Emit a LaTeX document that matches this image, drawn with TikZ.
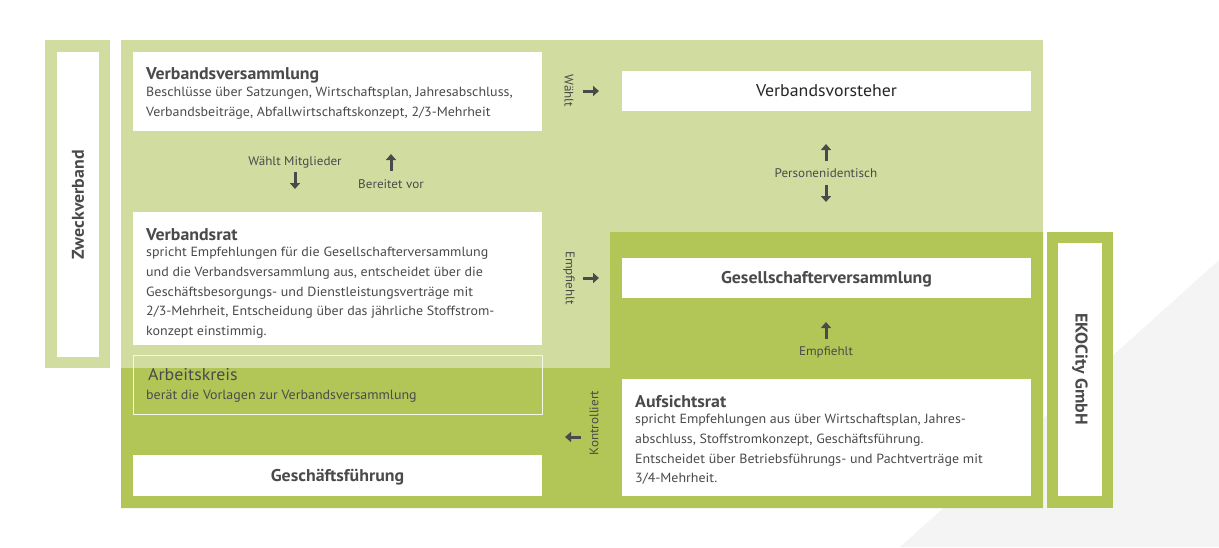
\documentclass[tikz,border=0pt]{standalone}
\usepackage{fontspec}
\setmainfont[FakeStretch=1.05]{PT Sans}
\usetikzlibrary{arrows.meta}
\definecolor{lg}{HTML}{D1DDA0}
\definecolor{dg}{HTML}{B2C658}
\definecolor{tx}{HTML}{4A4A4A}
\definecolor{bgg}{HTML}{F4F4F4}
\begin{document}
\begin{tikzpicture}[x=1pt,y=-1pt,
  wbox/.style={fill=white,draw=none},
  big/.style={font=\bfseries\fontsize{17}{20}\selectfont,text=tx},
  ttl/.style={big,anchor=west,inner sep=0},
  body/.style={font=\fontsize{13.3}{19.7}\selectfont,text=tx,anchor=north west,inner sep=0,align=left},
  lbl/.style={font=\fontsize{12.5}{14}\selectfont,text=tx,inner sep=0},
  arr/.style={-{Triangle[length=6pt,width=10pt]},line width=3pt,draw=tx}]
\useasboundingbox (0,0) rectangle (1219,547);
\fill[bgg] (900,547) -- (1219,260) -- (1219,547) -- cycle;
% Zweckverband
\fill[lg] (45,40) rectangle (110,368);
\fill[white] (57,52) rectangle (99,357);
\node[big,rotate=90] (zv) at (78,205) {Zweckverband};
% main regions
\fill[lg] (121,40) rectangle (1043,368);
\fill[dg] (121,368) -- (610,368) -- (610,232) -- (1043,232) -- (1043,508) -- (121,508) -- cycle;
% EKOCity
\fill[dg] (1047,232) rectangle (1113,508);
\fill[white] (1058,243) rectangle (1102,496);
\node[big,rotate=-90] (eko) at (1080,369) {EKOCity GmbH};
% left boxes
\fill[wbox] (133,52) rectangle (542,131);
\node[ttl] (vv) at (146,75) {Verbandsversammlung};
\node[body] at (146,87) {Beschlüsse über Satzungen, Wirtschaftsplan, Jahresabschluss,\\Verbandsbeiträge, Abfallwirtschaftskonzept, 2/3-Mehrheit};
\fill[wbox] (133,212) rectangle (542,345);
\node[ttl] (vr) at (146,235) {Verbandsrat};
\node[body] at (146,247) {spricht Empfehlungen für die Gesellschafterversammlung\\und die Verbandsversammlung aus, entscheidet über die\\Geschäftsbesorgungs- und Dienstleistungsverträge mit\\2/3-Mehrheit, Entscheidung über das jährliche Stoffstrom-\\konzept einstimmig.};
\draw[white!85!dg,line width=0.8pt] (133,355) rectangle (542,414);
\node[font=\fontsize{17}{20}\selectfont,text=tx,anchor=west,inner sep=0] (ak) at (148,375) {Arbeitskreis};
\node[body] at (146,390) {berät die Vorlagen zur Verbandsversammlung};
\fill[wbox] (133,455) rectangle (542,496);
\node[big] (gf) at (337.5,477) {Geschäftsführung};
% right boxes
\fill[wbox] (622,71) rectangle (1031,111);
\node[font=\fontsize{17}{20}\selectfont,text=black!85] (vvs) at (826.5,91) {Verbandsvorsteher};
\fill[wbox] (622,258) rectangle (1031,298);
\node[big] (gv) at (826.5,279) {Gesellschafterversammlung};
\fill[wbox] (622,379) rectangle (1031,496);
\node[ttl] (ar) at (635,402) {Aufsichtsrat};
\node[body] at (635,414) {spricht Empfehlungen aus über Wirtschaftsplan, Jahres-\\abschluss, Stoffstromkonzept, Geschäftsführung.\\Entscheidet über Betriebsführungs- und Pachtverträge mit\\3/4-Mehrheit.};
% arrows & labels
\coordinate (a1s) at (583,91); \coordinate (a1e) at (599,91);
\draw[arr] (a1s) -- (a1e);
\node[lbl,rotate=-90] (l1) at (569,91) {Wählt};
\coordinate (a2s) at (583,278); \coordinate (a2e) at (599,278);
\draw[arr] (a2s) -- (a2e);
\node[lbl,rotate=-90] (l2) at (569,278) {Empfiehlt};
\coordinate (a3s) at (581,437); \coordinate (a3e) at (565,437);
\draw[arr] (a3s) -- (a3e);
\node[lbl,rotate=90] (l3) at (594,423) {Kontrolliert};
\node[lbl] (l4) at (295,162) {Wählt Mitglieder};
\coordinate (a4s) at (295,172); \coordinate (a4e) at (295,189);
\draw[arr] (a4s) -- (a4e);
\coordinate (a5s) at (391,171); \coordinate (a5e) at (391,154);
\draw[arr] (a5s) -- (a5e);
\node[lbl] (l5) at (391,184) {Bereitet vor};
\coordinate (a6s) at (826,161); \coordinate (a6e) at (826,144);
\draw[arr] (a6s) -- (a6e);
\node[lbl] (l6) at (826,173) {Personenidentisch};
\coordinate (a7s) at (826,185); \coordinate (a7e) at (826,202);
\draw[arr] (a7s) -- (a7e);
\coordinate (a8s) at (826,339); \coordinate (a8e) at (826,322);
\draw[arr] (a8s) -- (a8e);
\node[lbl] (l8) at (826,352) {Empfiehlt};
\end{tikzpicture}
\end{document}
